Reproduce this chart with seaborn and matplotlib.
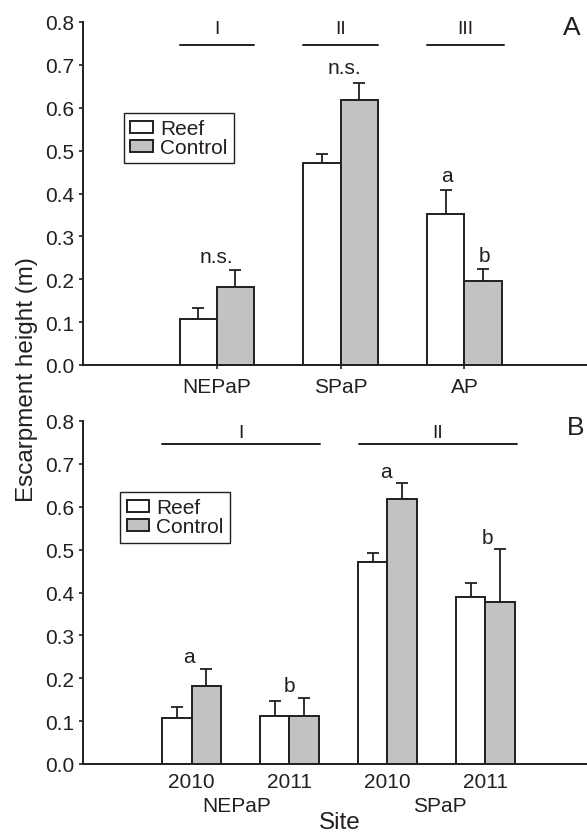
import numpy as np
import pandas as pd
import matplotlib
matplotlib.use("Agg")
import matplotlib.pyplot as plt
import seaborn as sns
from matplotlib.transforms import blended_transform_factory

# ---------------- data ----------------
sites_A = ["NEPaP", "SPaP", "AP"]
reef_A = [0.108, 0.472, 0.353]
reef_A_err = [0.025, 0.020, 0.054]
ctrl_A = [0.182, 0.619, 0.196]
ctrl_A_err = [0.039, 0.038, 0.027]
notes_A = ["n.s.", "n.s.", "a", "b"]
groups_A = ["I", "II", "III"]

cats_B = ["NEPaP 2010", "NEPaP 2011", "SPaP 2010", "SPaP 2011"]
years_B = ["2010", "2011", "2010", "2011"]
sites_B = ["NEPaP", "SPaP"]
reef_B = [0.107, 0.113, 0.471, 0.389]
reef_B_err = [0.027, 0.033, 0.020, 0.034]
ctrl_B = [0.181, 0.113, 0.617, 0.377]
ctrl_B_err = [0.040, 0.042, 0.039, 0.124]
notes_B = ["a", "b", "a", "b"]
groups_B = ["I", "II"]

treatments = ["Reef", "Control"]

# ---------------- style ----------------
sns.set_style("ticks")
plt.rcParams["font.family"] = ["Liberation Sans", "DejaVu Sans"]
INK = "#231f20"
GRAY = "#c1c2c4"
FS = 15
plt.rcParams["text.color"] = INK

fig = plt.figure(figsize=(5.87, 8.37), dpi=100)
W, H = 587.0, 837.0
axA = fig.add_axes([83 / W, 1 - 366 / H, 504 / W, 343 / H])
axB = fig.add_axes([83 / W, 1 - 765 / H, 504 / W, 343 / H])

pal = {"Reef": "white", "Control": GRAY}


def draw(ax, cats, reef, ctrl, reef_err, ctrl_err):
    df = pd.DataFrame({
        "cat": list(cats) * 2,
        "treatment": ["Reef"] * len(cats) + ["Control"] * len(cats),
        "height": list(reef) + list(ctrl),
    })
    sns.barplot(data=df, x="cat", y="height", hue="treatment",
                hue_order=treatments, order=list(cats), palette=pal,
                width=0.6, errorbar=None, edgecolor=INK, linewidth=1.4,
                saturation=1, ax=ax, zorder=2)
    conts = list(ax.containers)
    for cont, err in zip(conts, [reef_err, ctrl_err]):
        xs = [b.get_x() + b.get_width() / 2 for b in cont]
        hs = [b.get_height() for b in cont]
        ax.errorbar(xs, hs, yerr=[np.zeros(len(err)), err], fmt="none",
                    ecolor=INK, elinewidth=1.3, capsize=4.2, capthick=1.3,
                    zorder=1.5)
    ax.set_ylim(0, 0.8)
    ax.set_yticks(np.linspace(0, 0.8, 9))
    ax.set_yticklabels([f"{t:.1f}" for t in np.linspace(0, 0.8, 9)])
    ax.set_xlabel("")
    ax.set_ylabel("")
    sns.despine(ax=ax)
    for s in ("left", "bottom"):
        ax.spines[s].set_linewidth(1.4)
        ax.spines[s].set_color(INK)
    ax.tick_params(axis="both", direction="out", length=3, width=1.2,
                   color=INK, labelsize=FS, labelcolor=INK, pad=3.5)
    ax.set_facecolor("white")


def legend(ax, anchor):
    sns.move_legend(ax, "upper left", bbox_to_anchor=anchor, title=None,
                    frameon=True, fontsize=FS, handlelength=1.09,
                    handleheight=0.48, labelspacing=0.0, handletextpad=0.33,
                    borderpad=0.3, borderaxespad=0, fancybox=False,
                    edgecolor=INK, framealpha=1)
    fr = ax.get_legend().get_frame()
    fr.set_linewidth(1.0)


# ---------------- panel A ----------------
draw(axA, sites_A, reef_A, ctrl_A, reef_A_err, ctrl_A_err)
axA.set_xlim(-1.08, 2.99)
axA.tick_params(axis="x", pad=6)
legend(axA, (0.0817, 0.735))

note_pos_A = [(0.0, 0.241), (1.03, 0.681), (1.86, 0.4285), (2.16, 0.243)]
for (x, y), t in zip(note_pos_A, notes_A):
    axA.text(x, y, t, ha="center", va="baseline", fontsize=FS)
line_A = [(-0.3, 0.3), (0.7, 1.3), (1.7, 2.32)]
for (x0, x1), g in zip(line_A, groups_A):
    axA.plot([x0, x1], [0.746, 0.746], color=INK, lw=1.4, clip_on=False)
    axA.text((x0 + x1) / 2, 0.774, g, ha="center", va="baseline",
             fontsize=14)
axA.text(2.87, 0.772, "A", ha="center", va="baseline", fontsize=19)

# ---------------- panel B ----------------
draw(axB, cats_B, reef_B, ctrl_B, reef_B_err, ctrl_B_err)
axB.set_xlim(-1.11, 4.04)
axB.set_xticks(range(len(cats_B)))
axB.set_xticklabels(years_B)
axB.tick_params(axis="x", length=0, pad=6)
legend(axB, (0.074, 0.793))

note_pos_B = [(-0.03, 0.2385), (1.0, 0.171), (1.99, 0.670), (3.02, 0.5165)]
for (x, y), t in zip(note_pos_B, notes_B):
    axB.text(x, y, t, ha="center", va="baseline", fontsize=FS)
line_B = [(-0.3, 1.31), (1.71, 3.32)]
for (x0, x1), g in zip(line_B, groups_B):
    axB.plot([x0, x1], [0.746, 0.746], color=INK, lw=1.4, clip_on=False)
    axB.text((x0 + x1) / 2, 0.7635, g, ha="center", va="baseline",
             fontsize=14)
axB.text(3.92, 0.770, "B", ha="center", va="baseline", fontsize=19)

tr = blended_transform_factory(axB.transData, axB.transAxes)
for x, s in zip([0.46, 2.54], sites_B):
    axB.text(x, -0.137, s, transform=tr, ha="center", va="baseline",
             fontsize=FS)
axB.text(1.51, -0.188, "Site", transform=tr, ha="center", va="baseline",
         fontsize=17.5)

fig.text(27 / W, 1 - 380 / H, "Escarpment height (m)", rotation=90,
         ha="center", va="center", fontsize=17.5)

fig.savefig("out.png", dpi=100, facecolor="white")
